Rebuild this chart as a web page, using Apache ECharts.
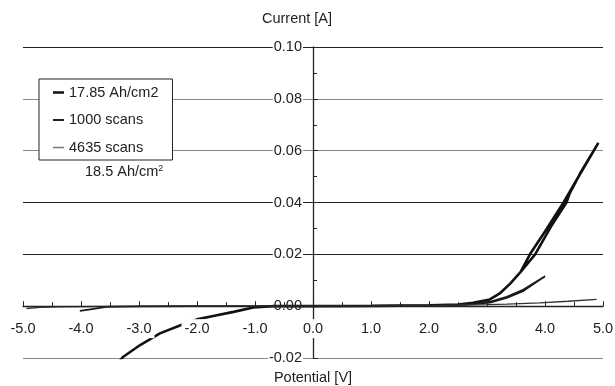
<!DOCTYPE html>
<html>
<head>
<meta charset="utf-8">
<script src="https://cdn.jsdelivr.net/npm/echarts@6/dist/echarts.min.js"></script>
<style>
  html, body { margin: 0; padding: 0; background: #fff; }
  #chart { width: 615px; height: 386px; }
</style>
</head>
<body>
<div id="chart"></div>
<script>
const seriesNames = ['17.85 Ah/cm2', '1000 scans', '4635 scans']

// 17.85 Ah/cm2 : from the negative end, up to 4.9 V and back to the knee
const potential1 = [-3.35, -3.27, -2.98, -2.64, -2.24, -2.0, -1.72, -1.37, -1.03, -0.68, 0, 1.0, 2.0, 2.5, 2.76, 3.05, 3.22, 3.4, 3.58,
  3.74, 4.0, 4.32, 4.6, 4.92, 4.62, 4.42, 4.37, 4.1, 3.83, 3.58]
const current1 = [-0.0215, -0.0195, -0.015, -0.0105, -0.007, -0.0051, -0.0038, -0.0022, -0.0005, 0, 0, 0.0001, 0.0003, 0.0006, 0.0013, 0.0026, 0.0049, 0.0087, 0.0132,
  0.02, 0.0288, 0.04, 0.0508, 0.063, 0.0518, 0.0432, 0.04, 0.0306, 0.02, 0.0132]

// 1000 scans
const potential2 = [-4.02, -3.84, -3.56, -3.0, -2.0, -1.0, 0, 1.0, 2.0, 2.5, 3.05, 3.34, 3.63, 4.0, 3.63, 3.34, 3.05, 2.6]
const current2 = [-0.0018, -0.0012, -0.0003, -0.0001, 0, 0, 0, 0.0001, 0.0003, 0.0005, 0.0017, 0.0036, 0.0064, 0.0115, 0.0059, 0.0032, 0.0014, 0.0005]

// 4635 scans
const potential3 = [-4.94, -4.71, -4.4, -3.5, -2.0, -1.0, 0, 1.0, 2.0, 2.5, 3.0, 3.34, 3.91, 4.4, 4.89]
const current3 = [-0.0009, -0.0005, -0.0003, -0.0001, 0, 0, 0, 0, 0.0002, 0.0004, 0.0006, 0.0008, 0.0013, 0.0019, 0.0026]

const xTicks = { min: -5, max: 5, interval: 1 }
const yTicks = { min: -0.02, max: 0.1, interval: 0.02 }

const W = 615, H = 386
const gridBox = { left: 23, right: 12, top: 47, bottom: 28 }
const font = "'Liberation Sans', Arial, Helvetica, sans-serif"
const ink = '#222'

// the axes cross at 0,0 inside the plot: move each whole axis there
const plotW = W - gridBox.left - gridBox.right
const plotH = H - gridBox.top - gridBox.bottom
const yAxisShift = -plotW * (0 - xTicks.min) / (xTicks.max - xTicks.min)
const xAxisShift = -plotH * (0 - yTicks.min) / (yTicks.max - yTicks.min)

const pairs = (xs, ys) => xs.map((x, i) => [x, ys[i]])
// line of a given thickness, centred in the 11x14 legend box
const legendLine = t => `path://M0,0L11,0L11,0Z M0,14L11,14L11,14Z M0,${7 - t / 2}L11,${7 - t / 2}L11,${7 + t / 2}L0,${7 + t / 2}Z`

const chart = echarts.init(document.getElementById('chart'))

chart.setOption({
  animation: false,
  backgroundColor: '#fff',
  grid: Object.assign({ outerBoundsMode: 'none', containLabel: false }, gridBox),
  legend: {
    orient: 'vertical',
    left: 39,
    top: 79,
    padding: [6, 14, 5, 14],
    itemGap: 12.5,
    itemWidth: 11,
    itemHeight: 14,
    backgroundColor: '#fff',
    borderColor: ink,
    borderWidth: 1,
    textStyle: { color: ink, fontSize: 14.5, fontFamily: font },
    data: [
      { name: seriesNames[0], icon: legendLine(2.6), itemStyle: { color: '#111' } },
      { name: seriesNames[1], icon: legendLine(1.8), itemStyle: { color: '#222' } },
      { name: seriesNames[2], icon: legendLine(1.3), itemStyle: { color: '#777' } }
    ]
  },
  xAxis: {
    type: 'value',
    z: 5, // tick labels sit on top of the curves
    min: xTicks.min,
    max: xTicks.max,
    interval: xTicks.interval,
    position: 'bottom',
    offset: xAxisShift,
    axisLine: { onZero: false, lineStyle: { color: ink, width: 1.4 } },
    axisTick: { inside: true, length: 5, lineStyle: { color: ink } },
    minorTick: { show: true, splitNumber: 2, length: 4, lineStyle: { color: ink } },
    splitLine: { show: false },
    axisLabel: {
      margin: 13,
      color: ink,
      fontSize: 14.5,
      fontFamily: font,
      backgroundColor: '#fff',
      padding: [2, 3],
      formatter: v => v.toFixed(1)
    }
  },
  yAxis: {
    type: 'value',
    min: yTicks.min,
    max: yTicks.max,
    interval: yTicks.interval,
    position: 'left',
    offset: yAxisShift,
    axisLine: { show: true, onZero: false, lineStyle: { color: ink, width: 1.3 } },
    axisTick: { show: true, inside: true, length: 5, lineStyle: { color: ink } },
    minorTick: { show: true, splitNumber: 2, length: 4, lineStyle: { color: ink } },
    splitLine: {
      show: true,
      lineStyle: { width: 1.2, color: ['#888', '#222', '#222', '#222', '#888', '#888', '#222'] }
    },
    axisLabel: {
      margin: 10,
      color: ink,
      fontSize: 14.5,
      fontFamily: font,
      backgroundColor: '#fff',
      padding: [0, 1],
      formatter: v => v.toFixed(2)
    }
  },
  graphic: [
    {
      type: 'text', x: 297, y: 19,
      style: { text: 'Current [A]', fill: ink, font: '14.5px ' + font, textAlign: 'center', textVerticalAlign: 'middle' }
    },
    {
      type: 'text', x: 313, y: 378,
      style: { text: 'Potential [V]', fill: ink, font: '14.5px ' + font, textAlign: 'center', textVerticalAlign: 'middle' }
    },
    {
      type: 'text', x: 85, y: 164, z: 10,
      style: {
        text: '18.5 Ah/cm{sup|2}',
        fill: ink,
        fontSize: 14.5,
        fontFamily: font,
        rich: { sup: { fontSize: 9, verticalAlign: 'top', fill: ink, fontFamily: font } }
      }
    }
  ],
  series: [
    {
      name: seriesNames[0], type: 'line', symbol: 'none', z: 2, color: '#111',
      lineStyle: { color: '#111', width: 2.6 },
      data: pairs(potential1, current1)
    },
    {
      name: seriesNames[1], type: 'line', symbol: 'none', z: 2, color: '#1a1a1a',
      lineStyle: { color: '#1a1a1a', width: 1.8 },
      data: pairs(potential2, current2)
    },
    {
      name: seriesNames[2], type: 'line', symbol: 'none', z: 2, color: '#333',
      lineStyle: { color: '#333', width: 1.3 },
      data: pairs(potential3, current3)
    }
  ]
})
</script>
</body>
</html>
